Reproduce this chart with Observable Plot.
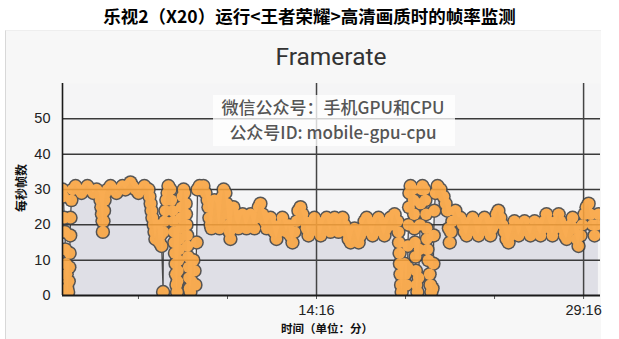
<!DOCTYPE html>
<html><head><meta charset="utf-8">
<script src="https://cdn.jsdelivr.net/npm/d3@7"></script>
<script src="https://cdn.jsdelivr.net/npm/@observablehq/plot@0.6"></script>
<style>
body{margin:0;background:#fff;}
#wrap{position:relative;width:619px;height:339px;overflow:hidden;font-family:"Noto Sans CJK SC","Noto Sans",sans-serif;}
#panel{position:absolute;left:5px;top:30px;width:595px;height:309px;background:#f7f7f7;border-left:1px solid #d8d8d8;border-top:1px solid #eeeeee;}
#title{position:absolute;left:0;width:619px;top:4px;text-align:center;font-size:17.5px;font-weight:bold;color:#000;line-height:24px;white-space:nowrap;}
#chartTitle{position:absolute;left:62px;width:538px;top:42px;text-align:center;font-family:Roboto,"Liberation Sans",sans-serif;font-size:24.5px;color:#333;line-height:30px;}
#chart{position:absolute;left:0;top:0;}
#wm{position:absolute;left:213px;top:95px;width:242px;height:51px;background:rgba(255,255,255,0.78);}
.wmline{position:absolute;left:200px;width:266px;text-align:center;font-size:17px;font-weight:500;color:#555;line-height:22px;white-space:nowrap;}
#ylab{position:absolute;left:20px;top:188px;transform:translate(-50%,-50%) rotate(-90deg);font-size:12px;font-weight:bold;color:#111;white-space:nowrap;}
#xlab{position:absolute;left:327px;top:328px;transform:translate(-50%,-50%);font-size:11.5px;font-weight:bold;color:#111;white-space:nowrap;}
</style></head>
<body>
<div id="wrap">
  <div id="panel"></div>
  <div id="title">乐视2（X20）运行&lt;王者荣耀&gt;高清画质时的帧率监测</div>
  <div id="chartTitle">Framerate</div>
  <div id="chart"></div>
  <div id="wm"></div>
  <div class="wmline" style="top:96px">微信公众号：手机GPU和CPU</div>
  <div class="wmline" style="top:121px">公众号ID: mobile-gpu-cpu</div>
  <div id="ylab">每秒帧数</div>
  <div id="xlab">时间（单位：分）</div>
</div>
<script>
// time in seconds since start
const seconds = [
  0,3,6,8,10,12,14,16,17,19,21,23,24,26,27,30,34,
  44,54,64,74,84,94,104,115,125,128,131,133,135,136,138,140,142,145,152,162,172,182,192,202,212,222,229,236,246,256,266,276,286,
  290,293,297,300,303,307,310,313,317,320,324,327,330,334,339,340,344,347,350,354,357,364,367,371,374,376,377,379,381,382,384,386,388,389,391,393,394,398,399,401,404,408,411,415,416,418,420,421,423,425,426,428,431,435,438,441,445,448,452,
  455,462,468,475,482,489,492,495,499,502,506,509,512,519,522,526,529,532,536,539,543,549,553,556,559,563,566,570,573,576,580,583,
  586,593,600,607,613,620,627,634,640,647,654,661,667,674,681,688,694,701,708,714,721,728,735,741,748,755,762,768,775,782,789,795,802,809,816,822,829,836,843,849,856,863,870,876,883,890,896,903,910,917,923,930,937,944,950,957,964,971,977,984,991,998,1004,1011,1018,1025,1031,1038,1045,1051,1058,1065,1072,1078,1085,1092,1099,1105,1112,1119,
  1129,1132,1134,1136,1137,1139,1141,1143,1146,1149,1153,1156,1159,1163,1164,1166,1168,1169,1173,1180,1183,1185,1186,1188,1190,1191,1193,1196,1200,1203,1205,1207,1210,1213,1220,1223,1225,1227,1228,1230,1233,1237,1240,1243,1247,1250,1251,1253,1257,1264,1274,1284,1291,1297,1302,1305,1309,1314,1324,1334,
  1341,1348,1355,1362,1368,1375,1382,1389,1395,1402,1409,1415,1422,1429,1436,1442,1449,1456,1463,1469,1476,1483,1490,1496,1503,1510,1517,1523,1530,1537,1544,1550,1557,1564,1570,1577,1584,1591,1597,1604,1611,1618,1624,1631,1638,1645,1651,1658,1665,1672,1678,1685,1692,1699,1705,1712,1719,1725,1732,1739,1746,1752,1759,1766,1773,1779,1786,1793,1800,1806
];
// frames per second
const fps = [
  30,28,22,18,13,9,6,2,0,1,4,8,12,17,22,27,30,
  31,30,29,30,31,30,29,30,29,27,25,23,21,18,21,24,27,29,30,31,30,29,30,31,30,31,32,31,30,29,30,31,30,
  30,28,26,24,22,20,18,16,18,20,17,15,17,14,1,18,21,24,27,29,31,30,27,24,21,18,15,12,9,6,3,1,4,7,10,13,16,19,22,25,28,30,29,26,23,20,17,14,11,8,5,2,1,4,7,10,7,3,15,
  30,31,30,31,29,27,25,22,20,19,21,24,27,26,23,20,19,22,25,28,30,29,26,23,20,18,16,19,22,25,23,21,
  21,19,21,23,21,19,21,23,21,19,22,25,26,23,21,19,21,22,20,18,16,18,20,22,20,18,20,17,15,18,21,24,25,23,21,19,17,19,21,22,20,18,17,19,21,22,20,18,20,22,20,18,20,22,20,18,16,15,17,19,17,15,17,19,21,22,20,18,17,19,21,22,20,18,17,19,21,22,20,23,
  21,18,15,12,9,6,3,1,3,6,9,6,3,8,14,20,25,29,31,30,27,23,19,15,11,7,3,1,5,13,20,26,30,31,30,27,23,19,16,13,10,6,3,1,2,9,17,24,29,31,30,28,26,24,19,15,18,21,24,22,
  22,20,18,17,19,21,22,20,18,17,19,21,22,20,18,17,19,21,23,24,22,20,18,16,15,17,19,21,19,17,18,20,21,19,18,17,19,21,20,18,17,19,21,23,21,19,17,19,21,23,21,19,17,16,18,20,22,19,16,14,17,20,23,25,26,23,20,17,20,23
];
const yTicks = [0,10,20,30,40,50];
const yGrid = [10,20,30,40,50];
const xTickSeconds = [256,556,856,1156,1456,1756];
const xTickLabels = ["","","14:16","","","29:16"];
const xGrid = [856,1756];

const data = seconds.map((t,i)=>({t, fps: fps[i]}));

const svg = Plot.plot({
  width: 619, height: 339,
  marginLeft: 62, marginRight: 19, marginTop: 83, marginBottom: 44,
  style: {background: "transparent", fontFamily: "'Liberation Sans', Arial, sans-serif", fontSize: "14.5px", color: "#222"},
  x: {domain: [0, 1813]},
  y: {domain: [0, 60]},
  marks: [
    Plot.frame({fill: "#f5f5f6", stroke: null}),
    Plot.areaY(data, {x: "t", y: "fps", fill: "#dfdfe6", clip: true}),
    Plot.ruleY(yGrid, {stroke: "#3a3a3a", strokeWidth: 1.5}),
    Plot.ruleX(xGrid, {stroke: "#444", strokeWidth: 1.5}),
    Plot.lineY(data, {x: "t", y: "fps", stroke: "#333", strokeWidth: 1.2, clip: true}),
    Plot.dot(data, {x: "t", y: "fps", r: 7.2, fill: "#404040", stroke: null, clip: true}),
    Plot.dot(data, {x: "t", y: "fps", r: 5.7, fill: "#faa33c", stroke: null, clip: true}),
    Plot.axisY({ticks: yTicks, tickSize: 0, tickPadding: 12, label: null, fill: "#222"}),
    Plot.axisX({ticks: xTickSeconds, tickFormat: d => xTickLabels[xTickSeconds.indexOf(d)], tickSize: 4, tickPadding: 5, label: null, stroke: "#555", fill: "#222"}),
    Plot.ruleY([0], {stroke: "#1a1a1a", strokeWidth: 2}),
    Plot.ruleX([0], {stroke: "#1a1a1a", strokeWidth: 1.6})
  ]
});
// group line + outline dots + fill dots so gridlines show faintly through the whole blob
const line = svg.querySelector('g[aria-label="line"]');
const dots = svg.querySelectorAll('g[aria-label="dot"]');
if (line && dots.length === 2) {
  const g = document.createElementNS("http://www.w3.org/2000/svg", "g");
  g.setAttribute("opacity", "0.88");
  line.parentNode.insertBefore(g, line);
  g.appendChild(line);
  g.appendChild(dots[0]);
  g.appendChild(dots[1]);
}
document.getElementById("chart").appendChild(svg);
</script>
</body></html>
